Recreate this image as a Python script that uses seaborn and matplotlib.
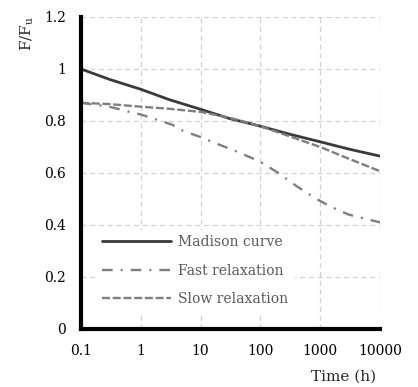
import matplotlib
matplotlib.use("Agg")
import matplotlib.pyplot as plt
import seaborn as sns
import pandas as pd
from matplotlib.ticker import FixedLocator, FixedFormatter, NullLocator

madison_t = [0.1, 0.3, 1, 3, 10, 30, 100, 300, 1000, 3000, 10000]
madison_f = [1.0, 0.96, 0.922, 0.882, 0.845, 0.81, 0.78, 0.75, 0.72, 0.692, 0.665]
fast_t = [0.1, 0.3, 0.6, 1, 2, 3.4, 5, 10, 20, 43, 100, 200, 400, 800, 1500, 3000, 10000]
fast_f = [0.87, 0.855, 0.837, 0.825, 0.803, 0.785, 0.763, 0.738, 0.71, 0.68, 0.643,
          0.60, 0.55, 0.505, 0.47, 0.44, 0.41]
slow_t = [0.1, 0.3, 1, 3, 10, 30, 100, 300, 1000, 3000, 10000]
slow_f = [0.87, 0.865, 0.855, 0.847, 0.835, 0.813, 0.78, 0.742, 0.70, 0.655, 0.607]
labels = ["Madison curve", "Fast relaxation", "Slow relaxation"]
xticks = [0.1, 1, 10, 100, 1000, 10000]
xticklabels = ["0.1", "1", "10", "100", "1000", "10000"]
yticks = [0, 0.2, 0.4, 0.6, 0.8, 1.0, 1.2]
yticklabels = ["0", "0.2", "0.4", "0.6", "0.8", "1", "1.2"]

df = pd.concat([
    pd.DataFrame({"t": madison_t, "f": madison_f, "s": labels[0]}),
    pd.DataFrame({"t": fast_t, "f": fast_f, "s": labels[1]}),
    pd.DataFrame({"t": slow_t, "f": slow_f, "s": labels[2]}),
])

sns.set_style("white")
plt.rcParams["font.family"] = ["DejaVu Serif"]
plt.rcParams["mathtext.fontset"] = "dejavuserif"

fig = plt.figure(figsize=(4.18, 3.87), dpi=100)
ax = fig.add_axes([81/418, 1 - 329/387, (380-81)/418, (329-17)/387])

styles = {
    labels[0]: dict(color="#3a3a3a", linestyle="-", linewidth=2.0),
    labels[1]: dict(color="#7f7f7f", linestyle=(0, (4.5, 3.4, 0.85, 3.4)), linewidth=1.7),
    labels[2]: dict(color="#7f7f7f", linestyle=(0, (3.4, 1.14)), linewidth=1.7),
}
for lab in labels:
    sns.lineplot(data=df[df["s"] == lab], x="t", y="f", ax=ax, label=lab,
                 **styles[lab])

ax.set_xscale("log")
ax.set_xlim(0.1, 10000)
ax.set_ylim(0, 1.2)
ax.xaxis.set_major_locator(FixedLocator(xticks))
ax.xaxis.set_major_formatter(FixedFormatter(xticklabels))
ax.xaxis.set_minor_locator(NullLocator())
ax.yaxis.set_major_locator(FixedLocator(yticks))
ax.yaxis.set_major_formatter(FixedFormatter(yticklabels))
ax.grid(True, color="#d0d0d0", linestyle=(0, (4, 3)), linewidth=0.9)
ax.set_axisbelow(True)
for s in ["top", "right"]:
    ax.spines[s].set_visible(False)
for s in ["left", "bottom"]:
    ax.spines[s].set_linewidth(3)
    ax.spines[s].set_color("black")
ax.tick_params(axis="y", length=0, labelsize=10, pad=11, colors="black")
ax.tick_params(axis="x", length=0, labelsize=10, pad=11, colors="black")
ax.set_xlabel("")
ax.set_ylabel("")

fig.text(344/418, 1 - 377/387, "Time (h)", ha="center", va="center", fontsize=11)
fig.text(27/418, 1 - 34/387, r"F/F$_\mathregular{u}$", ha="center", va="center",
         rotation=90, fontsize=11)

leg = ax.legend(loc="lower left", bbox_to_anchor=(0.03, 0.034), frameon=True,
                facecolor="white", edgecolor="white", framealpha=1.0,
                fontsize=10, handlelength=4.9, handletextpad=0.55,
                labelspacing=1.03, borderpad=0.4)
for t in leg.get_texts():
    t.set_color("#595959")

fig.savefig("out.png", dpi=100)
